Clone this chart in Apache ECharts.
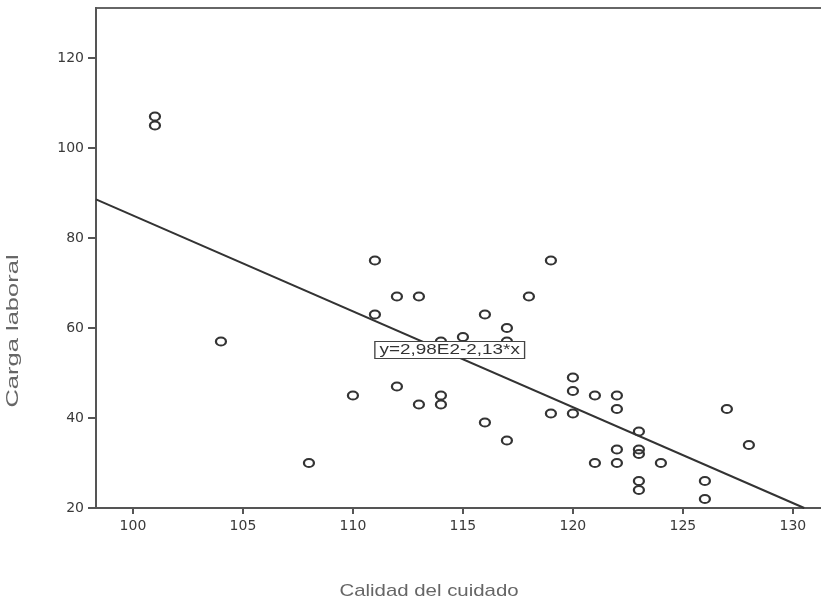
<!DOCTYPE html>
<html>
<head>
<meta charset="utf-8">
<script src="https://cdn.jsdelivr.net/npm/echarts@6/dist/echarts.min.js"></script>
<style>html,body{margin:0;padding:0;background:#fff;}#c{width:821px;height:601px;}</style>
</head>
<body>
<div id="c"></div>
<script>
// Data
const calidad = [101,101,104,108,110,111,111,112,112,113,113,114,114,114,115,116,116,117,117,117,118,119,119,120,120,120,121,121,122,122,122,122,123,123,123,123,123,124,126,126,127,128];
const carga   = [107,105,57,30,45,75,63,67,47,67,43,57,45,43,58,63,39,60,57,35,67,75,41,49,46,41,45,30,45,42,33,30,37,33,32,26,24,30,26,22,42,34];
const xTicks = [100,105,110,115,120,125,130];
const yTicks = [20,40,60,80,100,120];
const intercept = 298;   // 2,98E2
const slope = -2.13;
const eqLabel = 'y=2,98E2-2,13*x';
const xTitle = 'Calidad del cuidado';
const yTitle = 'Carga laboral';

const xMin = 98.32, xMax = 131.46, yMin = 20, yMax = 131.11;
const points = calidad.map((x, i) => [x, carga[i]]);
const xEnd = (yMin - intercept) / slope;
const fitLine = [[xMin, intercept + slope * xMin], [xEnd, intercept + slope * xEnd]];

const chart = echarts.init(document.getElementById('c'));
const axisFont = {fontFamily: 'DejaVu Sans', fontSize: 14, color: '#3a3a3a'};
chart.setOption({
  animation: false,
  backgroundColor: '#fff',
  grid: {left: 96, top: 8, width: 729, height: 500, outerBoundsMode: 'none', containLabel: false,
         show: true, borderColor: '#666', borderWidth: 2, backgroundColor: 'transparent'},
  xAxis: {
    type: 'value', min: xMin, max: xMax,
    splitLine: {show: false},
    axisLine: {show: true, lineStyle: {color: '#555', width: 2}},
    axisTick: {show: true, length: 6, lineStyle: {color: '#555', width: 2}, customValues: xTicks},
    axisLabel: Object.assign({margin: 11, customValues: xTicks}, axisFont)
  },
  yAxis: {
    type: 'value', min: yMin, max: yMax, interval: 20,
    splitLine: {show: false},
    axisLine: {show: true, lineStyle: {color: '#555', width: 2}},
    axisTick: {show: true, length: 8, lineStyle: {color: '#555', width: 2}, customValues: yTicks},
    axisLabel: Object.assign({margin: 12, customValues: yTicks}, axisFont)
  },
  series: [
    {
      type: 'line', data: fitLine, showSymbol: false, symbol: 'none',
      lineStyle: {color: '#333', width: 2}, z: 2, silent: true
    },
    {
      type: 'scatter', data: points, symbol: 'circle', symbolSize: [10, 8],
      itemStyle: {color: 'rgba(255,255,255,0)', borderColor: '#333', borderWidth: 2, opacity: 1}, z: 3
    }
  ]
});

const boxCenter = chart.convertToPixel({gridIndex: 0}, [114.4, 55.1]);
chart.setOption({
  graphic: [
    {
      type: 'text', x: boxCenter[0], y: boxCenter[1], scaleX: 1.35, z: 10,
      style: {
        text: eqLabel, fontFamily: 'Liberation Sans', fontSize: 14, fill: '#333',
        align: 'center', verticalAlign: 'middle',
        backgroundColor: '#fff', borderColor: '#444', borderWidth: 1, padding: [1, 3, 1, 3]
      }
    },
    {
      type: 'text', x: 429, y: 591, scaleX: 1.2,
      style: {text: xTitle, fontFamily: 'Liberation Sans', fontSize: 17, fill: '#666', align: 'center', verticalAlign: 'middle'}
    },
    {
      type: 'text', x: 13, y: 331, rotation: Math.PI / 2, scaleX: 1.5,
      style: {text: yTitle, fontFamily: 'Liberation Sans', fontSize: 17, fill: '#666', align: 'center', verticalAlign: 'middle'}
    }
  ]
});
</script>
</body>
</html>
